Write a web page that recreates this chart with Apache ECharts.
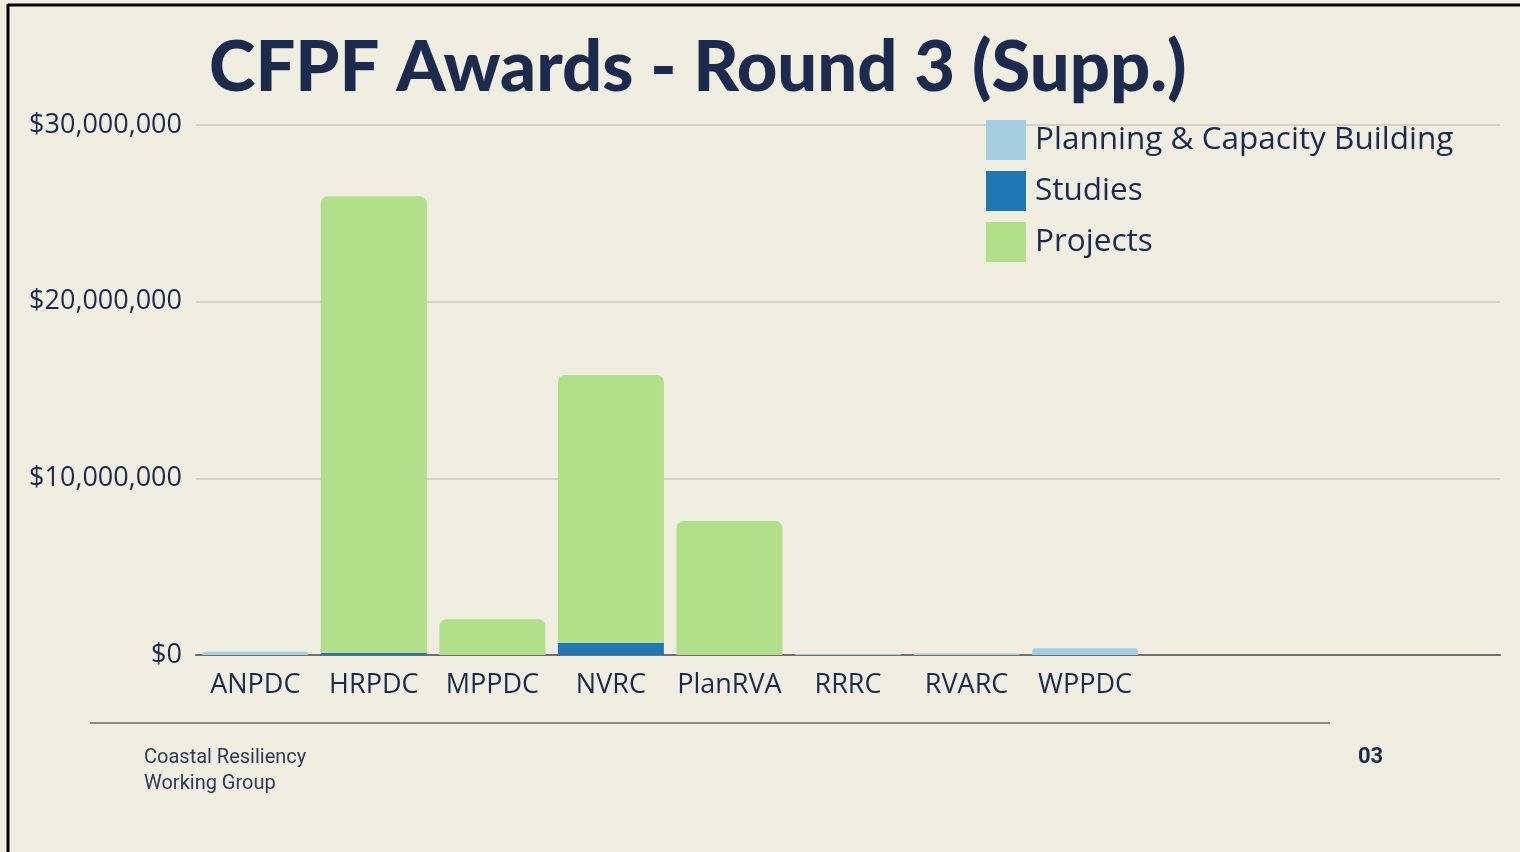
<!DOCTYPE html>
<html>
<head>
<meta charset="utf-8">
<script src="https://cdn.jsdelivr.net/npm/echarts@6/dist/echarts.min.js"></script>
<style>
  html, body { margin: 0; padding: 0; background: #f0ede1; }
  #chart { width: 1520px; height: 852px; }
</style>
</head>
<body>
<div id="chart"></div>
<script>
// regions on the x axis (the last three slots are empty in the original)
const categories = ['ANPDC', 'HRPDC', 'MPPDC', 'NVRC', 'PlanRVA', 'RRRC', 'RVARC', 'WPPDC', ' ', '  ', '   '];
const planning = [180000, 0, 0, 0, 0, 50000, 80000, 380000, 0, 0, 0];
const studies  = [0, 120000, 0, 700000, 0, 0, 0, 0, 0, 0, 0];
const projects = [0, 25850000, 2020000, 15150000, 7580000, 0, 0, 0, 0, 0, 0];
const yTicks = [0, 10000000, 20000000, 30000000];

const navy = '#1c2a4d';
const chart = echarts.init(document.getElementById('chart'));

chart.setOption({
    backgroundColor: '#f0ede1',
    animation: false,
    color: ['#a6cee3', '#1f78b4', '#b2df8a'],
    title: {
        text: 'CFPF Awards - Round 3 (Supp.)',
        left: 204,
        top: 28,
        textStyle: { fontFamily: 'Lato', fontWeight: 900, fontSize: 70.5, color: navy }
    },
    legend: {
        orient: 'vertical',
        left: 986,
        top: 120,
        padding: 0,
        itemWidth: 40,
        itemHeight: 40,
        itemGap: 11,
        icon: 'rect',
        data: ['Planning & Capacity Building', 'Studies', 'Projects'],
        textStyle: { fontFamily: 'Open Sans', fontSize: 31.5, color: navy, padding: [7, 0, 0, 4] }
    },
    grid: { left: 196, right: 20, top: 125, bottom: 197 },
    xAxis: {
        type: 'category',
        data: categories,
        axisTick: { show: false },
        axisLine: { lineStyle: { color: '#6b6e72', width: 2 } },
        axisLabel: { interval: 0, fontFamily: 'Open Sans', fontSize: 27, color: navy, margin: 17 }
    },
    yAxis: {
        type: 'value',
        min: yTicks[0],
        max: yTicks[yTicks.length - 1],
        interval: yTicks[1] - yTicks[0],
        splitLine: { lineStyle: { color: '#d4d2c8', width: 2 } },
        axisLabel: {
            fontFamily: 'Open Sans', fontSize: 27, color: navy, margin: 14,
            formatter: v => '$' + v.toLocaleString('en-US')
        }
    },
    series: [
        { name: 'Planning & Capacity Building', type: 'bar', stack: 'a', barWidth: 106, data: planning,
          itemStyle: { borderRadius: [4, 4, 0, 0] } },
        { name: 'Studies', type: 'bar', stack: 'a', barWidth: 106, data: studies },
        { name: 'Projects', type: 'bar', stack: 'a', barWidth: 106, data: projects,
          itemStyle: { borderRadius: [7, 7, 0, 0] } }
    ],
    graphic: [
        { type: 'line', shape: { x1: 8, y1: 5, x2: 1520, y2: 5 }, silent: true,
          style: { stroke: '#000', lineWidth: 3 } },
        { type: 'line', shape: { x1: 8, y1: 4, x2: 8, y2: 852 }, silent: true,
          style: { stroke: '#000', lineWidth: 3 } },
        { type: 'line', shape: { x1: 90, y1: 723, x2: 1330, y2: 723 },
          style: { stroke: '#8e8d7c', lineWidth: 2 } },
        { type: 'text', left: 144, top: 745,
          style: { text: 'Coastal Resiliency\nWorking Group', fontFamily: 'Roboto', fontSize: 20,
                   lineHeight: 26, fill: '#2f3a55' } },
        { type: 'text', left: 1358, top: 746,
          style: { text: '03', fontFamily: 'Roboto', fontWeight: 'bold', fontSize: 22, fill: navy } }
    ]
});
</script>
</body>
</html>
